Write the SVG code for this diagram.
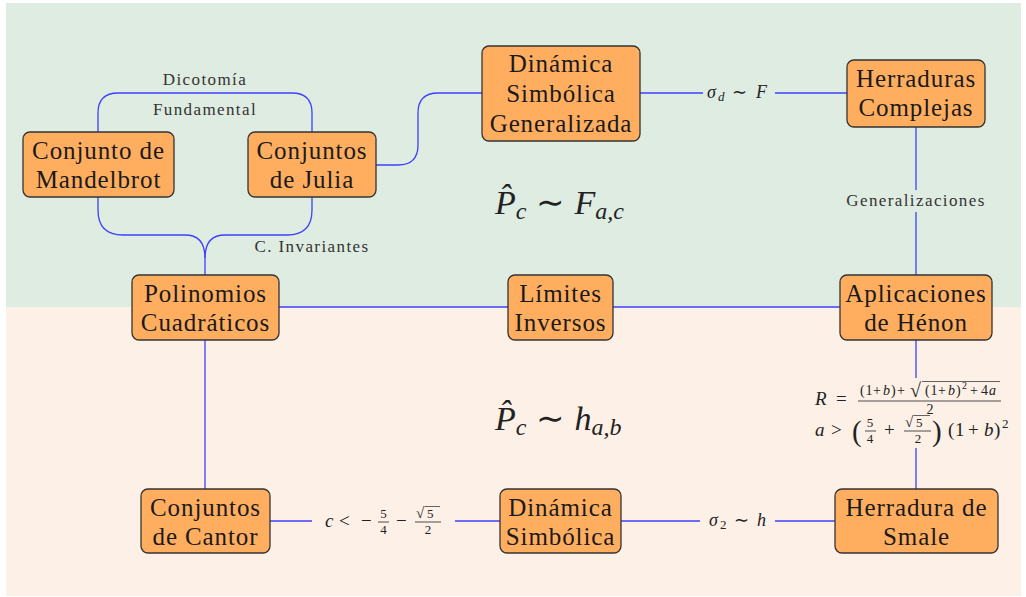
<svg xmlns="http://www.w3.org/2000/svg" width="1026" height="597" viewBox="0 0 1026 597">
<style>
.node rect{fill:#ffae60;stroke:#333;stroke-width:1.3}
.node text{font-family:"Liberation Serif",serif;font-size:25px;fill:#1a1a1a;text-anchor:middle;letter-spacing:0.9px}
.conn path{fill:none;stroke:#3f3fff;stroke-width:1.3}
.lbl{font-family:"Liberation Serif",serif;font-size:17px;fill:#333;text-anchor:middle;letter-spacing:1.4px}
.m{font-family:"Liberation Serif",serif;fill:#222}
.i{font-style:italic}
.bar{stroke:#222;stroke-width:0.8}
</style>
<rect x="6" y="3" width="1015" height="304" fill="#dfece2"/>
<rect x="6" y="307" width="1015" height="289" fill="#fdf0e6"/>
<g class="conn">
<path d="M98,132 V113 Q98,93 118,93 H292 Q312,93 312,113 V132"/>
<path d="M98,197 V210 Q98,235 123,235 H185 Q205,235 205,258 V275"/>
<path d="M312,197 V210 Q312,235 287,235 H225 Q205,235 205,258"/>
<path d="M376,165 H398 Q418,165 418,145 V113 Q418,93 438,93 H482"/>
<path d="M640,93 H703 M775,93 H847"/>
<path d="M916,127 V190 M916,212 V275"/>
<path d="M279,307 H508 M613,307 H840"/>
<path d="M205,340 V489"/>
<path d="M916,340 V378 M916,448 V489"/>
<path d="M270,521 H312 M455,521 H500"/>
<path d="M621,521 H700 M775,521 H835"/>
</g>
<g id="mandelbrot" class="node"><rect x="23" y="132" width="151" height="65" rx="7"/><text x="98.5" y="159">Conjunto de</text><text x="98.5" y="188">Mandelbrot</text></g>
<g id="julia" class="node"><rect x="248" y="132" width="128" height="65" rx="7"/><text x="312" y="159">Conjuntos</text><text x="312" y="188">de Julia</text></g>
<g id="dsg" class="node"><rect x="482" y="46" width="158" height="95" rx="7"/><text x="561" y="72">Dinámica</text><text x="561" y="102">Simbólica</text><text x="561" y="132">Generalizada</text></g>
<g id="herraduras" class="node"><rect x="847" y="60" width="138" height="67" rx="7"/><text x="916" y="87">Herraduras</text><text x="916" y="116">Complejas</text></g>
<g id="polinomios" class="node"><rect x="132" y="275" width="147" height="65" rx="7"/><text x="205.5" y="302">Polinomios</text><text x="205.5" y="331">Cuadráticos</text></g>
<g id="limites" class="node"><rect x="508" y="275" width="105" height="65" rx="7"/><text x="560.5" y="302">Límites</text><text x="560.5" y="331">Inversos</text></g>
<g id="henon" class="node"><rect x="840" y="275" width="152" height="65" rx="7"/><text x="916" y="302">Aplicaciones</text><text x="916" y="331">de Hénon</text></g>
<g id="cantor" class="node"><rect x="141" y="489" width="129" height="64" rx="7"/><text x="205.5" y="516">Conjuntos</text><text x="205.5" y="545">de Cantor</text></g>
<g id="ds" class="node"><rect x="500" y="489" width="121" height="64" rx="7"/><text x="560.5" y="516">Dinámica</text><text x="560.5" y="545">Simbólica</text></g>
<g id="smale" class="node"><rect x="835" y="489" width="163" height="64" rx="7"/><text x="916.5" y="516">Herradura de</text><text x="916.5" y="545">Smale</text></g>
<g id="labels">
<text class="lbl" x="205" y="85">Dicotomía</text>
<text class="lbl" x="205" y="115">Fundamental</text>
<text class="lbl" x="312" y="252">C. Invariantes</text>
<text class="lbl" x="916" y="206">Generalizaciones</text>
<text class="m" y="98" font-size="18"><tspan class="i" x="707">σ</tspan><tspan class="i" font-size="13" x="718" y="101">d</tspan><tspan x="732" y="98">∼</tspan><tspan class="i" x="756">F</tspan></text>
<text class="m" y="526" font-size="18"><tspan class="i" x="709">σ</tspan><tspan font-size="13" x="720" y="529">2</tspan><tspan x="734" y="526">∼</tspan><tspan class="i" x="757">h</tspan></text>
<text class="m" x="495" y="214" font-size="34"><tspan class="i">P̂</tspan><tspan class="i" font-size="24" dy="5">c</tspan><tspan dy="-5" dx="10">∼</tspan><tspan class="i" dx="10">F</tspan><tspan class="i" font-size="24" dy="5">a,c</tspan></text>
<text class="m" x="495" y="430" font-size="34"><tspan class="i">P̂</tspan><tspan class="i" font-size="24" dy="5">c</tspan><tspan dy="-5" dx="10">∼</tspan><tspan class="i" dx="10">h</tspan><tspan class="i" font-size="24" dy="5">a,b</tspan></text>
<g id="cformula">
<text class="m i" x="325" y="527" font-size="19">c</text>
<text class="m" x="339" y="527" font-size="19">&lt;</text>
<text class="m" x="361" y="527" font-size="19">−</text>
<text class="m" x="383.5" y="518" font-size="13" text-anchor="middle">5</text>
<line class="bar" x1="378" y1="522" x2="389" y2="522"/>
<text class="m" x="383.5" y="534" font-size="13" text-anchor="middle">4</text>
<text class="m" x="396" y="527" font-size="19">−</text>
<text class="m" x="416" y="518" font-size="15">√</text>
<text class="m" x="427" y="518" font-size="13">5</text>
<line x1="424.5" y1="506.5" x2="440" y2="506.5" stroke="#222" stroke-width="0.7"/>
<line class="bar" x1="415" y1="522" x2="441" y2="522"/>
<text class="m" x="428" y="534" font-size="13" text-anchor="middle">2</text>
</g>
<g id="rformula">
<text class="m i" x="815" y="405" font-size="19">R</text>
<text class="m" x="836" y="405" font-size="19">=</text>
<text class="m" y="395" font-size="14"><tspan x="860 865.5">(1</tspan><tspan x="873">+</tspan><tspan class="i" x="883">b</tspan><tspan x="891 897">)+</tspan><tspan x="910" font-size="20" y="397">√</tspan><tspan x="925 930.5" y="395">(1</tspan><tspan x="938">+</tspan><tspan class="i" x="948">b</tspan><tspan x="956">)</tspan><tspan font-size="10" x="962" y="389">2</tspan><tspan x="970 981" y="395">+4</tspan><tspan class="i" x="989">a</tspan></text>
<line x1="922" y1="381.5" x2="1000" y2="381.5" stroke="#222" stroke-width="0.7"/>
<line class="bar" x1="858" y1="401" x2="1001" y2="401"/>
<text class="m" x="930" y="414" font-size="14" text-anchor="middle">2</text>
<text class="m i" x="815" y="436" font-size="19">a</text>
<text class="m" x="831" y="436" font-size="19">&gt;</text>
<text class="m" x="852" y="441" font-size="29">(</text>
<text class="m" x="870" y="427" font-size="13" text-anchor="middle">5</text>
<line class="bar" x1="865" y1="431" x2="876" y2="431"/>
<text class="m" x="870" y="443" font-size="13" text-anchor="middle">4</text>
<text class="m" x="884" y="436" font-size="19">+</text>
<text class="m" x="905" y="427" font-size="15">√</text>
<text class="m" x="916" y="427" font-size="13">5</text>
<line x1="913.5" y1="415.5" x2="930" y2="415.5" stroke="#222" stroke-width="0.7"/>
<line class="bar" x1="904" y1="431" x2="931" y2="431"/>
<text class="m" x="918" y="443" font-size="13" text-anchor="middle">2</text>
<text class="m" x="932" y="441" font-size="29">)</text>
<text class="m" y="436" font-size="19"><tspan x="948">(</tspan><tspan x="955">1</tspan><tspan x="968">+</tspan><tspan class="i" x="984">b</tspan><tspan x="994">)</tspan><tspan font-size="13" x="1002" y="428">2</tspan></text>
</g>
</g>
</svg>
